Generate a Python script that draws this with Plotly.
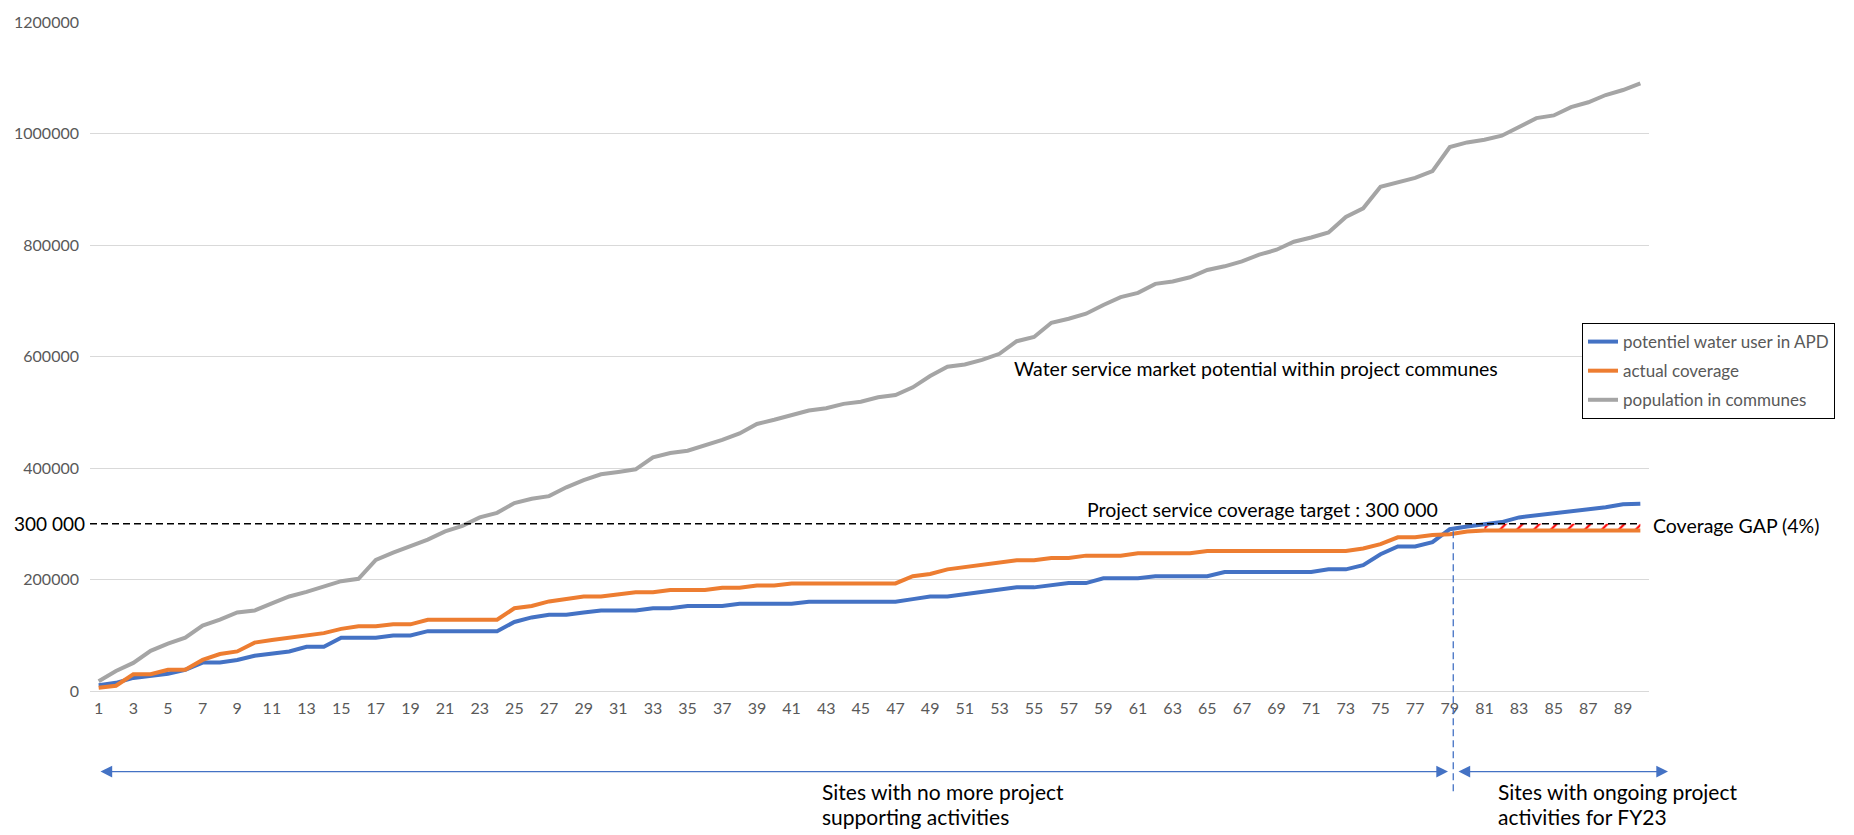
import plotly.graph_objects as go

# Site index (sites sorted by cumulative population)
sites = list(range(1, 91))

# Cumulative potential water users in APD
potential_users = [
    10500, 14700, 23500, 27000, 31000, 38000, 51000, 51000, 55700, 63300,
    67400, 71000, 79200, 79200, 95600, 95600, 95600, 99700, 99700, 107300,
    107300, 107300, 107300, 107300, 123800, 132000, 136700, 136700, 140800, 144300,
    144300, 144300, 148400, 148400, 152500, 152500, 152500, 156600, 156600, 156600,
    156600, 160100, 160100, 160100, 160100, 160100, 160100, 164800, 169500, 169500,
    173600, 177700, 181800, 185900, 185900, 190000, 193600, 193600, 202300, 202300,
    202300, 205900, 205900, 205900, 205900, 213500, 213500, 213500, 213500, 213500,
    213500, 218200, 218200, 225800, 245200, 259200, 259200, 266900, 290300, 295000,
    299000, 303000, 311400, 315000, 318500, 322000, 326000, 329600, 335000, 336000,
]

# Cumulative actual coverage
actual_coverage = [
    5900, 9400, 30000, 30000, 38000, 38000, 55700, 66300, 71000, 86800,
    91500, 95600, 99700, 103800, 111400, 116100, 116100, 119600, 119600, 127900,
    127900, 127900, 127900, 127900, 148400, 152500, 160700, 164800, 169500, 169500,
    173600, 177100, 177100, 181200, 181200, 181200, 185300, 185300, 189400, 189400,
    193000, 193000, 193000, 193000, 193000, 193000, 193000, 205900, 210000, 218200,
    222300, 226400, 230500, 234600, 234600, 238700, 238700, 242800, 242800, 242800,
    246900, 246900, 246900, 246900, 251000, 251000, 251000, 251000, 251000, 251000,
    251000, 251000, 251000, 255700, 263300, 275700, 275700, 279800, 281000, 286000,
    288000, 288000, 288000, 288000, 288000, 288000, 288000, 288000, 288000, 288000,
]

# Cumulative population in the project communes
population = [
    17600, 35800, 50400, 72100, 85000, 95600, 117300, 127900, 140800, 144300,
    157200, 169500, 177700, 186500, 197000, 201200, 235200, 248100, 259800, 271500,
    286200, 296200, 311400, 319600, 337200, 344900, 349500, 365400, 378300, 388800,
    393000, 397600, 419300, 427000, 431000, 439900, 450400, 462000, 479000, 486500,
    495400, 503000, 507200, 515000, 519000, 526800, 531000, 544700, 565000, 581600,
    585700, 594000, 604800, 627400, 635000, 660600, 667800, 676700, 692500, 706500,
    714200, 730300, 734500, 742100, 755200, 761800, 770700, 782600, 791500, 805800,
    813500, 822400, 850400, 865800, 904500, 911600, 920500, 932500, 975800, 984000,
    988900, 996000, 1011500, 1027600, 1032400, 1047200, 1056000, 1069000, 1078000, 1090000,
]

target = 300000
split_site = 79.2          # boundary between finished and ongoing sites
gap_start = 81             # first site of the hatched coverage gap

y_ticks = [0, 200000, 400000, 600000, 800000, 1000000, 1200000]
x_ticks = list(range(1, 91, 2))

BLUE = "#4472C4"
ORANGE = "#ED7D31"
GRAY = "#A5A5A5"
LABEL = "#595959"
FONT = "Lato"

fig = go.Figure()

# Hatched gap between the target and actual coverage for ongoing sites
gap_x = [s for s in sites if s >= gap_start]
gap_low = [v for s, v in zip(sites, actual_coverage) if s >= gap_start]
fig.add_trace(go.Scatter(
    x=gap_x + gap_x[::-1],
    y=[target] * len(gap_x) + gap_low[::-1],
    fill="toself",
    mode="lines",
    line=dict(width=0, color="rgba(0,0,0,0)"),
    fillpattern=dict(shape="/", fgcolor="#FF0000", bgcolor="white",
                     size=12, solidity=0.18, fillmode="replace"),
    showlegend=False,
    hoverinfo="skip",
))

series = [
    ("potentiel water user in APD", potential_users, BLUE),
    ("actual coverage", actual_coverage, ORANGE),
    ("population in communes", population, GRAY),
]
for i, (name, vals, col) in enumerate(series):
    fig.add_trace(go.Scatter(
        x=sites, y=vals, name=name, mode="lines",
        line=dict(color=col, width=4),
        legendgroup=f"g{i}",
    ))

# Target line at 300 000
fig.add_shape(type="line", xref="x", yref="y", x0=0.5, x1=90, y0=target, y1=target,
              line=dict(color="black", width=1.3, dash="7px,4px"))

# Vertical split between finished and ongoing sites
fig.add_shape(type="line", xref="x", yref="paper", x0=split_site, x1=split_site,
              y0=-0.150, y1=potential_users[78] / 1200000,
              line=dict(color=BLUE, width=1.3, dash="7px,4px"))

W_PLOT = 1559.0
def px_to_paper_x(px):
    return (px - 90) / W_PLOT

def px_to_paper_y(py):
    return (691 - py) / 672.7

arrow_y = px_to_paper_y(772)
for x_head, x_tail in [(1448, 99), (1668, 1457)]:
    fig.add_annotation(
        xref="paper", yref="paper", x=px_to_paper_x(x_head), y=arrow_y,
        axref="pixel", ayref="pixel", ax=x_tail - x_head, ay=0,
        text="", showarrow=True, arrowside="end+start",
        arrowhead=2, startarrowhead=2, arrowsize=1.8, startarrowsize=1.8,
        arrowwidth=1.3, arrowcolor=BLUE, standoff=0, startstandoff=0,
    )

txt = dict(family=FONT, color="black")

fig.add_annotation(xref="paper", yref="y", x=px_to_paper_x(87), y=target,
                   text="300 000", showarrow=False, xanchor="right", yanchor="middle",
                   font=dict(size=19, **txt))
fig.add_annotation(xref="x", yref="y", x=68.2, y=326000,
                   text="Project service coverage target : 300 000",
                   showarrow=False, xanchor="center", yanchor="middle",
                   font=dict(size=19.5, **txt))
fig.add_annotation(xref="x", yref="y", x=67.8, y=578000,
                   text="Water service market potential within project communes",
                   showarrow=False, xanchor="center", yanchor="middle",
                   font=dict(size=19.5, **txt))
fig.add_annotation(xref="paper", yref="y", x=px_to_paper_x(1651), y=297000,
                   text="Coverage GAP (4%)", showarrow=False,
                   xanchor="left", yanchor="middle", font=dict(size=19.5, **txt))

# Two-line captions under the range arrows
captions = [
    (820, ["Sites with no more project", "supporting activities"]),
    (1496, ["Sites with ongoing project", "activities for FY23"]),
]
for x_px, lines in captions:
    for j, line in enumerate(lines):
        fig.add_annotation(xref="paper", yref="paper", x=px_to_paper_x(x_px),
                           y=px_to_paper_y(792 + 25 * j),
                           text=line, showarrow=False, xanchor="left", yanchor="middle",
                           font=dict(size=21, **txt))

fig.update_layout(
    width=1854, height=835,
    margin=dict(l=90, r=205, t=18, b=144),
    paper_bgcolor="white", plot_bgcolor="white",
    font=dict(family=FONT, color=LABEL, size=16),
    legend=dict(
        x=px_to_paper_x(1582), y=px_to_paper_y(321), xanchor="left", yanchor="top",
        bordercolor="black", borderwidth=1, bgcolor="white",
        font=dict(size=17, color=LABEL, family=FONT),
        tracegroupgap=4, traceorder="grouped",
    ),
    xaxis=dict(
        range=[0.5, 90.5], tickmode="array", tickvals=x_ticks,
        ticktext=[str(v) for v in x_ticks],
        showgrid=False, zeroline=False, showline=False,
        tickfont=dict(size=16, color=LABEL, family=FONT),
        ticklabelstandoff=6,
    ),
    yaxis=dict(
        range=[0, 1200000], tickmode="array", tickvals=y_ticks,
        ticktext=[str(v) for v in y_ticks],
        showgrid=True, gridcolor="#D9D9D9", gridwidth=1,
        zeroline=True, zerolinecolor="#D9D9D9", zerolinewidth=1,
        showline=False,
        tickfont=dict(size=16, color=LABEL, family=FONT),
        ticklabelstandoff=10,
    ),
)

fig.write_html("out.html")
